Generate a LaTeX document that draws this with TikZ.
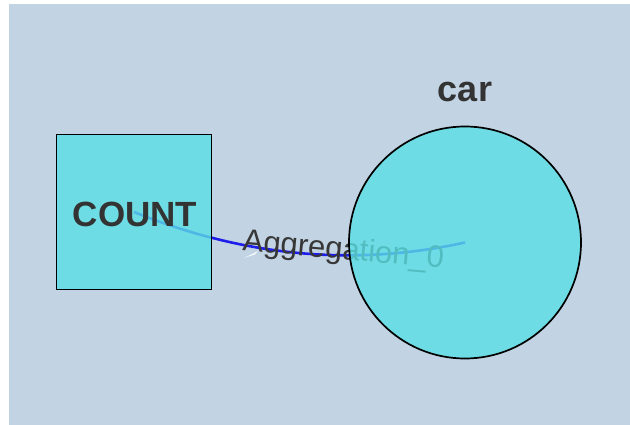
\documentclass[tikz,border=0pt]{standalone}
\usepackage{fontspec}
\setmainfont{Liberation Sans}
\pgfdeclarelayer{back}
\pgfdeclarelayer{under}
\pgfsetlayers{back,under,main}
\definecolor{bgc}{RGB}{194,212,228}
\definecolor{nodec}{RGB}{89,223,228}
\definecolor{edgec}{RGB}{30,30,235}
\definecolor{txtc}{RGB}{51,51,51}
\definecolor{lblc}{RGB}{55,55,55}
\begin{document}
\begin{tikzpicture}[x=1pt,y=-1pt,
  shapebox/.style={draw=black, line width=1.9pt, fill=nodec, fill opacity=0.8,
    draw opacity=1, text opacity=1, text=txtc, inner sep=0pt},
  edgeline/.style={draw=edgec, line width=2.6pt},
  lbl/.style={text=lblc, inner sep=0pt, font=\fontsize{31}{36}\selectfont}]
\useasboundingbox (0,0) rectangle (630,425);
\node[shapebox, rectangle, minimum width=155pt, minimum height=155pt] (count) at (134,212) {};
\node[txtc, inner sep=0pt, anchor=base, font=\bfseries\fontsize{35}{40}\selectfont] (countlbl) at (135,226) {COUNT};
\node[shapebox, circle, minimum size=232pt, line width=1.7pt] (car) at (465,242.5) {};
\node[txtc, inner sep=0pt, anchor=base, font=\bfseries\fontsize{36}{40}\selectfont] (carlbl) at (465,101.5) {car};
\begin{pgfonlayer}{back}
  \fill[white] (0,0) rectangle (630,425);
  \fill[bgc] (9,4) rectangle (630,425);
\end{pgfonlayer}
\begin{pgfonlayer}{under}
  \draw[edgeline] (count.center) .. controls (244.3,256.7) and (354.7,266.7) .. (car.center);
  \node[lbl, anchor=base west, rotate=-5] (agg) at (242,250.5) {Aggregation\_0};
  \fill[white, opacity=0.85] (244,258) -- (258,251) -- (255,254.5) -- cycle;
\end{pgfonlayer}
\end{tikzpicture}
\end{document}
